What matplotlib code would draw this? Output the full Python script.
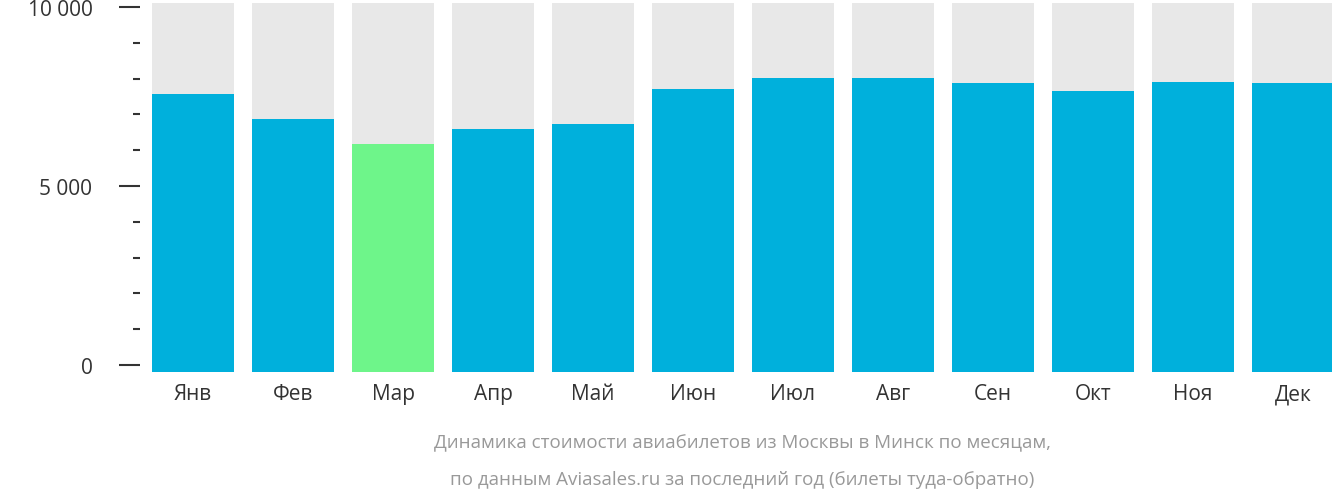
import matplotlib.pyplot as plt
from matplotlib.ticker import MultipleLocator

months = ["Янв", "Фев", "Мар", "Апр", "Май", "Июн", "Июл", "Авг", "Сен", "Окт", "Ноя", "Дек"]
prices = [7570, 6870, 6170, 6590, 6730, 7710, 8020, 8020, 7880, 7650, 7900, 7880]
cheapest = "Мар"
ytick_vals = [0, 5000, 10000]
ytick_labels = ["0 ₽", "5 000 ₽", "10 000 ₽"]

plt.rcParams["font.family"] = "Open Sans"
fig = plt.figure(figsize=(13.32, 5.02), dpi=100)
ax = fig.add_axes([152 / 1332, 129 / 502, 1180 / 1332, 373 / 502])

x = range(len(months))
ax.bar(x, [10300] * len(months), width=0.82, bottom=-200, color="#e8e8e8")
colors = ["#6ef58a" if m == cheapest else "#00b0dc" for m in months]
ax.bar(x, [p + 200 for p in prices], width=0.82, bottom=-200, color=colors)

ax.set_xlim(-0.41, 11.39)
ax.set_ylim(-196, 10223)
for s in ax.spines.values():
    s.set_visible(False)
ax.spines["left"].set_position(("outward", 9))
ax.set_yticks(ytick_vals)
ax.set_yticklabels(ytick_labels, fontsize=15, color="#333333")
ax.yaxis.set_minor_locator(MultipleLocator(1000))
ax.tick_params(axis="y", which="major", length=15, width=1.5, color="#333333", pad=6)
ax.tick_params(axis="y", which="minor", length=5, width=1.5, color="#333333")
ax.set_xticks(list(x))
ax.set_xticklabels(months, fontsize=15, color="#333333")
ax.tick_params(axis="x", length=0, pad=8)

fig.text(0.556, 443 / 502, "", ha="center")
fig.text(742 / 1332, 1 - 443 / 502, "Динамика стоимости авиабилетов из Москвы в Минск по месяцам,",
         ha="center", va="center", fontsize=13.5, color="#999999")
fig.text(742 / 1332, 1 - 480 / 502, "по данным Aviasales.ru за последний год (билеты туда-обратно)",
         ha="center", va="center", fontsize=13.5, color="#999999")

fig.savefig("out.png", dpi=100)
